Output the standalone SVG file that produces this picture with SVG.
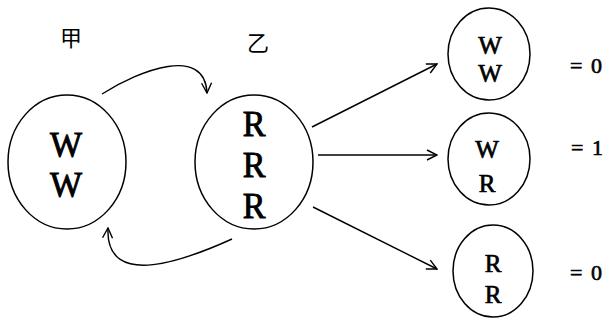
<svg xmlns="http://www.w3.org/2000/svg" width="609" height="320" viewBox="0 0 609 320">
  <style>
    .bubble { fill: none; stroke: #000; stroke-width: 1.5; }
    /* heavy serif letters: regular face thickened with a thin matching stroke */
    .serif { font-weight: normal; fill: #000; stroke: #000; }
    .big { font-size: 34px; text-anchor: middle; stroke-width: 0.9; }
    .small { font-size: 25px; text-anchor: middle; stroke-width: 0.7; }
    .eq { font-size: 22px; stroke-width: 0.6; word-spacing: 3px; }
    .cjk { font-size: 22px; text-anchor: middle; fill: #000; }
    .link { fill: none; stroke: #000; stroke-width: 1.4; marker-end: url(#vhead); }
  </style>
  <defs>
    <marker id="vhead" viewBox="0 0 12 12" refX="11" refY="6" markerWidth="12" markerHeight="12" markerUnits="userSpaceOnUse" orient="auto">
      <path d="M1,1 L11,6 L1,11" fill="none" stroke="#000" stroke-width="1.4"/>
    </marker>
  </defs>

  <rect width="609" height="320" fill="#fff"/>

  <!-- container 甲 -->
  <g id="node-jia">
    <text class="cjk" style="font-family:'Noto Sans CJK SC', sans-serif" x="71" y="46">甲</text>
    <ellipse class="bubble" cx="67" cy="162" rx="59" ry="67"/>
    <text class="serif big" style="font-family:'Liberation Serif'" transform="translate(66,157) scale(1,1.08)">W</text>
    <text class="serif big" style="font-family:'Liberation Serif'" transform="translate(66,197) scale(1,1.08)">W</text>
  </g>

  <!-- container 乙 -->
  <g id="node-yi">
    <text class="cjk" style="font-family:'Noto Sans CJK SC', sans-serif" x="258" y="51">乙</text>
    <ellipse class="bubble" cx="254" cy="162" rx="59" ry="67"/>
    <text class="serif big" style="font-family:'Liberation Serif'" transform="translate(254,136) scale(1,1.05)">R</text>
    <text class="serif big" style="font-family:'Liberation Serif'" transform="translate(254,177) scale(1,1.05)">R</text>
    <text class="serif big" style="font-family:'Liberation Serif'" transform="translate(254,218) scale(1,1.05)">R</text>
  </g>

  <!-- outcome WW -->
  <g id="node-ww">
    <ellipse class="bubble" cx="489" cy="54" rx="41" ry="46"/>
    <text class="serif small" style="font-family:'Liberation Serif'" x="490" y="54">W</text>
    <text class="serif small" style="font-family:'Liberation Serif'" x="490" y="82">W</text>
    <text class="serif eq" style="font-family:'Liberation Serif'" x="570" y="73">= 0</text>
  </g>

  <!-- outcome WR -->
  <g id="node-wr">
    <ellipse class="bubble" cx="489" cy="159" rx="41" ry="46"/>
    <text class="serif small" style="font-family:'Liberation Serif'" x="487" y="158">W</text>
    <text class="serif small" style="font-family:'Liberation Serif'" x="487" y="192">R</text>
    <text class="serif eq" style="font-family:'Liberation Serif'" x="571" y="155">= 1</text>
  </g>

  <!-- outcome RR -->
  <g id="node-rr">
    <ellipse class="bubble" cx="493" cy="271" rx="40" ry="46"/>
    <text class="serif small" style="font-family:'Liberation Serif'" x="493" y="272">R</text>
    <text class="serif small" style="font-family:'Liberation Serif'" x="493" y="303">R</text>
    <text class="serif eq" style="font-family:'Liberation Serif'" x="570" y="280">= 0</text>
  </g>

  <!-- connectors -->
  <g id="connectors">
    <path class="link" d="M102,94 C140,70 205,45 207,93"/>
    <path class="link" d="M232,239 C190,258 105,292 108,228"/>
    <path class="link" d="M312,127 L437,64"/>
    <path class="link" d="M318,155 L437,155"/>
    <path class="link" d="M313,207 L437,269"/>
  </g>
</svg>
